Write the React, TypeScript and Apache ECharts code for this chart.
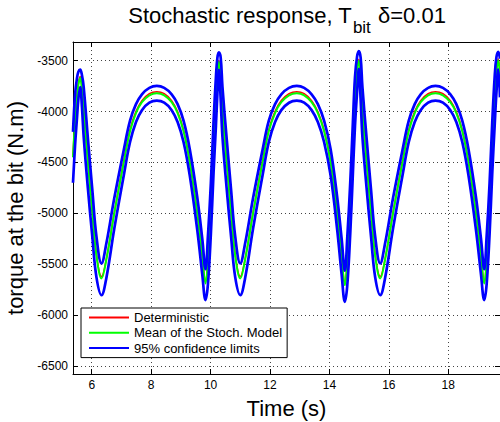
import React, { useEffect, useRef } from "react";
import * as echarts from "echarts";

// Time (s)
const time = [
  5.37, 5.44, 5.5, 5.55,
  5.61, 5.67, 5.73, 5.87, 6.02, 6.16, 6.33, 6.49, 6.76, 7.08, 7.29, 7.49, 7.69, 7.94, 8.19, 8.44, 8.69, 8.89, 9.09, 9.3, 9.55, 9.72, 9.83, 9.91, 10.01, 10.1, 10.18, 10.23,
  10.28, 10.34, 10.4, 10.54, 10.69, 10.83, 11.0, 11.16, 11.43, 11.75, 11.96, 12.17, 12.38, 12.64, 12.9, 13.15, 13.4, 13.61, 13.82, 14.04, 14.26, 14.41, 14.52, 14.6, 14.7, 14.79, 14.86, 14.93,
  14.99, 15.05, 15.11, 15.25, 15.4, 15.54, 15.71, 15.87, 16.14, 16.46, 16.67, 16.87, 17.07, 17.32, 17.57, 17.82, 18.07, 18.27, 18.47, 18.68, 18.93, 19.1, 19.21, 19.29, 19.39, 19.48, 19.56, 19.62,
  19.68, 19.74,
];

const deterministic = [
  -4430, -4060, -3860, -3725,
  -3655, -3770, -3985, -4480, -4985, -5405, -5622, -5450, -4990, -4480, -4178, -3998, -3892, -3824, -3804, -3824, -3892, -4000, -4180, -4490, -4990, -5410, -5672, -5445, -4935, -4335, -3885, -3605,
  -3495, -3645, -3985, -4480, -4985, -5405, -5622, -5450, -4990, -4480, -4178, -3998, -3892, -3824, -3804, -3824, -3892, -4000, -4180, -4490, -4990, -5410, -5688, -5455, -4935, -4335, -3885, -3595,
  -3485, -3645, -3985, -4480, -4985, -5405, -5622, -5450, -4990, -4480, -4178, -3998, -3892, -3824, -3804, -3824, -3892, -4000, -4180, -4490, -4990, -5410, -5672, -5445, -4935, -4335, -3885, -3600,
  -3480, -3635,
];

const meanStoch = [
  -4450, -4080, -3880, -3740,
  -3670, -3780, -4000, -4500, -5000, -5420, -5640, -5460, -5000, -4500, -4194, -4015, -3908, -3840, -3820, -3840, -3908, -4015, -4194, -4500, -5000, -5420, -5690, -5460, -4950, -4350, -3900, -3620,
  -3510, -3660, -4000, -4500, -5000, -5420, -5640, -5460, -5000, -4500, -4194, -4015, -3908, -3840, -3820, -3840, -3908, -4015, -4194, -4500, -5000, -5420, -5706, -5470, -4950, -4350, -3900, -3610,
  -3500, -3660, -4000, -4500, -5000, -5420, -5640, -5460, -5000, -4500, -4194, -4015, -3908, -3840, -3820, -3840, -3908, -4015, -4194, -4500, -5000, -5420, -5690, -5460, -4950, -4350, -3900, -3615,
  -3495, -3650,
];

const upperLimit = [
  -4200, -3830, -3680, -3610,
  -3588, -3640, -3760, -4260, -4770, -5230, -5492, -5300, -4850, -4375, -4089, -3927, -3830, -3767, -3748, -3767, -3830, -3927, -4089, -4370, -4840, -5250, -5550, -5230, -4700, -4100, -3660, -3470,
  -3418, -3470, -3760, -4260, -4770, -5230, -5492, -5300, -4850, -4375, -4089, -3927, -3830, -3767, -3748, -3767, -3830, -3927, -4089, -4370, -4840, -5250, -5565, -5240, -4700, -4100, -3660, -3460,
  -3405, -3470, -3760, -4260, -4770, -5230, -5492, -5300, -4850, -4375, -4089, -3927, -3830, -3767, -3748, -3767, -3830, -3927, -4089, -4370, -4840, -5250, -5550, -5230, -4700, -4100, -3660, -3465,
  -3412, -3480,
];

const lowerLimit = [
  -4700, -4330, -4080, -3880,
  -3760, -3950, -4250, -4750, -5230, -5630, -5805, -5640, -5150, -4625, -4299, -4103, -3986, -3913, -3893, -3913, -3986, -4103, -4299, -4630, -5160, -5600, -5853, -5700, -5200, -4600, -4140, -3820,
  -3590, -3880, -4250, -4750, -5230, -5630, -5804, -5640, -5150, -4625, -4299, -4103, -3986, -3913, -3893, -3913, -3986, -4103, -4299, -4630, -5160, -5600, -5870, -5710, -5200, -4600, -4140, -3810,
  -3580, -3880, -4250, -4750, -5230, -5630, -5804, -5640, -5150, -4625, -4299, -4103, -3986, -3913, -3893, -3913, -3986, -4103, -4299, -4630, -5160, -5600, -5853, -5700, -5200, -4600, -4140, -3815,
  -3585, -3860,
];

const legendNames = ["Deterministic", "Mean of the Stoch. Model", "95% confidence limits"];

const FONT = "'Liberation Sans', Arial, Helvetica, sans-serif";

const pairs = (vals: number[]) => time.map((t, i) => [t, vals[i]]);

export default function App() {
  const ref = useRef<HTMLDivElement>(null);
  useEffect(() => {
    if (!ref.current) return;
    const chart = echarts.init(ref.current, undefined, { renderer: "svg" });
    const xRange = { min: 5.37, max: 19.74, splitNumber: 7 };
    const yRange = { min: -6580, max: -3316, splitNumber: 6 };
    const lineSeries = (name: string, vals: number[], color: string, width: number, z: number) => ({
      type: "line",
      name,
      data: pairs(vals),
      symbol: "none",
      showSymbol: false,
      smooth: 0.4,
      z,
      lineStyle: { color, width },
      itemStyle: { color },
    });
    chart.setOption({
      animation: false,
      backgroundColor: "#ffffff",
      title: {
        text: "{a|Stochastic response, T}{b|bit}{a| δ=0.01}",
        left: 282,
        top: 0,
        textAlign: "center",
        padding: [4, 5, 5, 5],
        textStyle: {
          fontWeight: "normal",
          rich: {
            a: { fontSize: 22, fontFamily: FONT, fontWeight: "normal", color: "#000", lineHeight: 24, verticalAlign: "top" },
            b: { fontSize: 17, fontFamily: FONT, fontWeight: "normal", color: "#000", lineHeight: 17, padding: [15, 1, 0, 1], verticalAlign: "top" },
          },
        },
      },
      grid: { left: 73, top: 42, right: 0, bottom: 48, containLabel: false, outerBoundsMode: "none" },
      legend: {
        orient: "vertical",
        left: 81,
        top: 308,
        data: legendNames,
        itemWidth: 40,
        itemHeight: 19,
        itemGap: 0,
        padding: [2, 5, 2, 7],
        borderColor: "#000",
        borderWidth: 1,
        borderRadius: 0,
        backgroundColor: "#fff",
        selectedMode: false,
        itemStyle: { opacity: 0 },
        textStyle: { fontSize: 13, fontFamily: FONT, color: "#000" },
      },
      xAxis: [
        {
          type: "value",
          ...xRange,
          position: "bottom",
          axisLine: { show: true, onZero: false, lineStyle: { color: "#000", width: 1 } },
          axisTick: { show: true, inside: true, length: 5, lineStyle: { color: "#000" } },
          axisLabel: { fontSize: 12, fontFamily: FONT, color: "#000", margin: 5, showMinLabel: false, showMaxLabel: false, formatter: (v: number) => String(v) },
          splitLine: { show: true, lineStyle: { type: [1, 3], color: "#444", width: 1 } },
          name: "Time (s)",
          nameLocation: "middle",
          nameGap: 23,
          nameTextStyle: { fontSize: 22, fontFamily: FONT, color: "#000" },
        },
        {
          type: "value",
          ...xRange,
          position: "top",
          axisLine: { show: true, onZero: false, lineStyle: { color: "#000", width: 1 } },
          axisTick: { show: true, inside: true, length: 5, lineStyle: { color: "#000" } },
          axisLabel: { show: false },
          splitLine: { show: false },
        },
      ],
      yAxis: [
        {
          type: "value",
          ...yRange,
          position: "left",
          axisLine: { show: true, onZero: false, lineStyle: { color: "#000", width: 1 } },
          axisTick: { show: true, inside: true, length: 5, lineStyle: { color: "#000" } },
          axisLabel: { fontSize: 12, fontFamily: FONT, color: "#000", margin: 5, showMinLabel: false, showMaxLabel: false, formatter: (v: number) => String(v) },
          splitLine: { show: true, lineStyle: { type: [1, 3], color: "#444", width: 1 } },
          name: "torque at the bit (N.m)",
          nameLocation: "middle",
          nameGap: 40,
          nameTextStyle: { fontSize: 22, fontFamily: FONT, color: "#000" },
        },
        {
          type: "value",
          ...yRange,
          position: "right",
          axisLine: { show: true, onZero: false, lineStyle: { color: "#000", width: 1 } },
          axisTick: { show: true, inside: true, length: 5, lineStyle: { color: "#000" } },
          axisLabel: { show: false },
          splitLine: { show: false },
        },
      ],
      series: [
        lineSeries(legendNames[0], deterministic, "#ff0000", 1.5, 2),
        lineSeries(legendNames[1], meanStoch, "#00ff00", 2, 3),
        lineSeries(legendNames[2], upperLimit, "#0000ff", 2.7, 4),
        lineSeries(legendNames[2], lowerLimit, "#0000ff", 2.7, 4),
      ],
    });
    return () => chart.dispose();
  }, []);
  return <div ref={ref} style={{ position: "absolute", left: 0, top: 0, width: 500, height: 422 }} />;
}
